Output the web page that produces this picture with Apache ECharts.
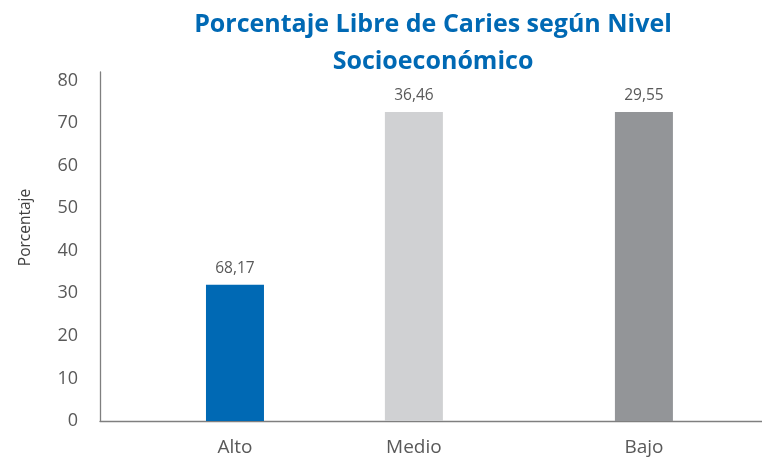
<!DOCTYPE html>
<html><head><meta charset="utf-8">
<script src="https://cdn.jsdelivr.net/npm/echarts@6/dist/echarts.min.js"></script>
<style>html,body{margin:0;padding:0;background:#fff}#c{width:762px;height:459px}</style>
</head><body><div id="c"></div>
<script>
// Data
const categories = ['Alto', 'Medio', 'Bajo'];
const barValues = [32.0, 72.6, 72.6];          // bar heights as drawn
const labelTexts = ['68,17', '36,46', '29,55']; // label texts as printed
const barColors = ['#0069B4', '#D0D1D3', '#939598'];
const yTicks = [0, 10, 20, 30, 40, 50, 60, 70, 80];

// Layout: uneven spacing of the categories (in slots)
const slotOf = [0, 7, 16];
const nSlots = 17;

const slotCats = new Array(nSlots).fill('');
const slotData = new Array(nSlots).fill(null);
categories.forEach((c, i) => {
  slotCats[slotOf[i]] = c;
  slotData[slotOf[i]] = { value: barValues[i], itemStyle: { color: barColors[i] }, lbl: labelTexts[i] };
});

const FONT = 'Open Sans';
const chart = echarts.init(document.getElementById('c'));
chart.setOption({
  animation: false,
  title: {
    text: 'Porcentaje Libre de Caries según Nivel\nSocioeconómico',
    left: 428, top: 1, textAlign: 'center',
    textStyle: { color: '#0069B4', fontFamily: FONT, fontWeight: 'bold', fontSize: 25, lineHeight: 37 }
  },
  grid: [
    { left: 100, right: 0, top: 72, bottom: 38 },
    { left: 222.2, right: 105.3, top: 72, bottom: 38 }
  ],
  xAxis: [
    { type: 'category', gridIndex: 0, data: [''], axisLine: { lineStyle: { color: '#7f7f7f', width: 1.3 } },
      axisTick: { show: false }, axisLabel: { show: false } },
    { type: 'category', gridIndex: 1, data: slotCats, axisLine: { show: false }, axisTick: { show: false },
      axisLabel: { interval: 0, color: '#595959', fontFamily: FONT, fontSize: 19, margin: 17 } }
  ],
  yAxis: [
    { type: 'value', gridIndex: 0, min: yTicks[0], max: 82, interval: 10,
      name: 'Porcentaje', nameLocation: 'middle', nameGap: 66,
      nameTextStyle: { color: '#404040', fontFamily: FONT, fontSize: 15.5, padding: [0, 0, 0, 38] },
      axisLine: { show: true, lineStyle: { color: '#7f7f7f', width: 1.3 } },
      axisTick: { show: false }, splitLine: { show: false },
      axisLabel: { color: '#595959', fontFamily: FONT, fontSize: 18, margin: 22, showMaxLabel: false } },
    { type: 'value', gridIndex: 1, min: 0, max: 82, show: false, splitLine: { show: false } }
  ],
  series: [{
    type: 'bar', xAxisIndex: 1, yAxisIndex: 1, data: slotData, barWidth: 58, clip: false,
    label: { show: true, position: 'top', distance: 8, color: '#595959', fontFamily: FONT, fontSize: 15.5,
      formatter: p => (p.data && p.data.lbl) || '' }
  }]
});
</script></body></html>
